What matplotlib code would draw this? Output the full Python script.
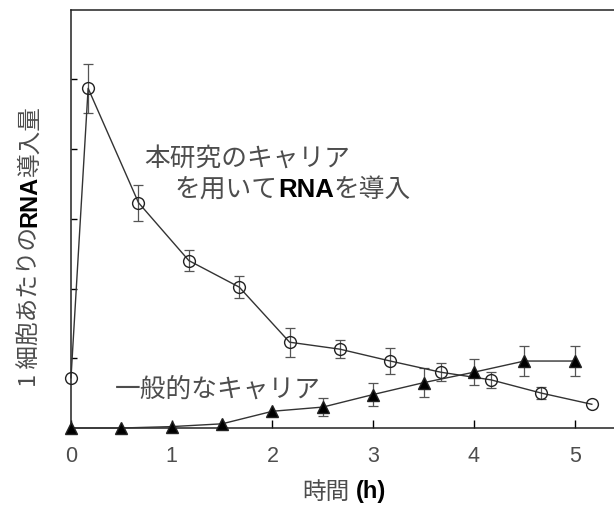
import numpy as np
import matplotlib
matplotlib.use("Agg")
import matplotlib.pyplot as plt

# 本研究のキャリア (open circles)
t_new = [0, 0.17, 0.67, 1.17, 1.67, 2.17, 2.67, 3.17, 3.67, 4.17, 4.67, 5.17]
rna_new = [0.72, 4.87, 3.23, 2.40, 2.02, 1.23, 1.13, 0.96, 0.80, 0.69, 0.50, 0.34]
err_new = [0, 0.35, 0.26, 0.15, 0.16, 0.21, 0.13, 0.18, 0.13, 0.12, 0.09, 0]

# 一般的なキャリア (filled triangles)
t_gen = [0, 0.5, 1, 1.5, 2, 2.5, 3, 3.5, 4, 4.5, 5]
rna_gen = [0, 0, 0.02, 0.06, 0.24, 0.30, 0.48, 0.65, 0.80, 0.96, 0.96]
err_gen = [0, 0, 0, 0, 0, 0.13, 0.16, 0.21, 0.19, 0.21, 0.22]

xticks = [0, 1, 2, 3, 4, 5]

GRAY = "#4d4d4d"
CJK = ["Noto Sans CJK JP", "DejaVu Sans"]
LAT = ["Liberation Sans", "DejaVu Sans"]
FS = 18.5

fig = plt.figure(figsize=(6.14, 5.10), dpi=100)
ax = fig.add_axes([71 / 614, 81 / 510, 1 - 71 / 614, 418.5 / 510])

def draw(ax, x, y, e, marker, ms, mfc):
    x = np.array(x); y = np.array(y); e = np.array(e)
    m = e > 0
    ax.errorbar(x[m], y[m], yerr=e[m], fmt="none", ecolor="#555555",
                elinewidth=0.9, capsize=3.8, capthick=0.9, zorder=2, clip_on=False)
    ax.plot(x, y, marker=marker, ms=ms, mfc=mfc, mec="#222222", mew=1.0,
            color="#333333", lw=1.0, zorder=3, clip_on=False)

draw(ax, t_new, rna_new, err_new, "o", 8.5, "none")
draw(ax, t_gen, rna_gen, err_gen, "^", 9, "black")

ax.set_xlim(0, 543 / 100.74)
ax.set_ylim(0, 6)
ax.set_xticks(xticks)
ax.set_xticklabels([str(v) for v in xticks], family=LAT, fontsize=15.5, color=GRAY)
ax.set_yticks([1, 2, 3, 4, 5])
ax.set_yticklabels([])
ax.tick_params(axis="x", direction="in", length=6, width=1, pad=12)
ax.tick_params(axis="y", direction="in", length=4, width=1)
ax.spines["right"].set_visible(False)
for s in ["left", "bottom", "top"]:
    ax.spines[s].set_linewidth(1.1)
    ax.spines[s].set_color("#222222")

def chain(first, parts, rot=False, fs=FS):
    t = first
    for s, col, fam, wt in parts:
        if rot:
            t = ax.annotate(s, xy=(0.5, 1), xycoords=t, ha="center", va="bottom",
                            rotation=90, color=col, family=fam, weight=wt, fontsize=fs)
        else:
            t = ax.annotate(s, xy=(1, 0.5), xycoords=t, ha="left", va="center",
                            color=col, family=fam, weight=wt, fontsize=fs)
    return t

# annotations
ax.text(0.73, 3.88, "本研究のキャリア", family=CJK, fontsize=FS, color=GRAY,
        ha="left", va="center")
t2 = ax.text(1.03, 3.42, "を用いて", family=CJK, fontsize=FS, color=GRAY,
             ha="left", va="center")
chain(t2, [("RNA", "black", LAT, "bold"), ("を導入", GRAY, CJK, "normal")])
ax.text(0.44, 0.56, "一般的なキャリア", family=CJK, fontsize=FS, color=GRAY,
        ha="left", va="center")

# y label
yl = fig.text(30 / 614, (510 - 387) / 510, "1 細胞あたりの", family=CJK, fontsize=17,
              color=GRAY, rotation=90, ha="center", va="bottom")
chain(yl, [("RNA", "black", LAT, "bold"), ("導入量", GRAY, CJK, "normal")], rot=True, fs=17)

# x label
fig.text(349 / 614, (510 - 492) / 510, "時間", family=CJK, fontsize=17, color=GRAY,
         ha="right", va="center")
fig.text(356 / 614, (510 - 492) / 510, "(h)", family=LAT, fontsize=17, color="black",
         weight="bold", ha="left", va="center")

fig.savefig("out.png", dpi=100)
